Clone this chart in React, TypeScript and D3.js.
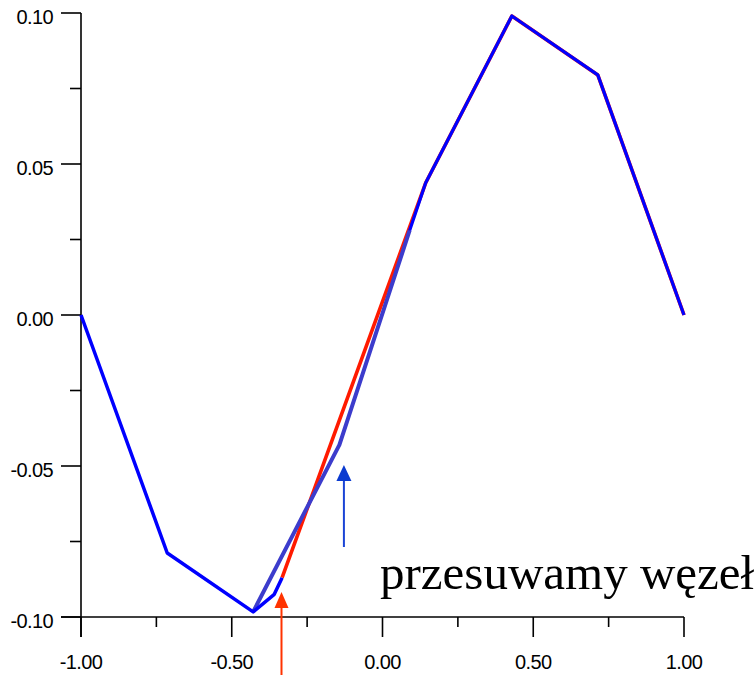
import React from "react";
import * as d3 from "d3";

const W = 754;
const H = 675;

// Data
const xMajorTicks = [-1, -0.5, 0, 0.5, 1];
const xTickLabels = ["-1.00", "-0.50", "0.00", "0.50", "1.00"];
const xMinorTicks = [-0.75, -0.25, 0.25, 0.75];
const yMajorTicks = [0.1, 0.05, 0, -0.05, -0.1];
const yTickLabels = ["0.10", "0.05", "0.00", "-0.05", "-0.10"];
const yMinorTicks = [0.075, 0.025, -0.025, -0.075];

// moved-node curve (red)
const redX = [-0.333, 0.143, 0.429, 0.714, 1];
const redY = [-0.087, 0.0437, 0.099, 0.0795, 0];
// original segment (violet-blue)
const origX = [-0.429, -0.143, 0.09];
const origY = [-0.0983, -0.043, 0.028];
// blue curve, left part
const blueLeftX = [-1, -0.714, -0.429, -0.359, -0.333];
const blueLeftY = [0, -0.0788, -0.0983, -0.0925, -0.087];
// blue curve, right part
const blueRightX = [0.09, 0.143, 0.429, 0.714, 1];
const blueRightY = [0.028, 0.0437, 0.099, 0.0795, 0];

const redArrowX = -0.335;
const blueArrowX = -0.128;
const label = "przesuwamy węzeł";

const zip = (xs: number[], ys: number[]) => xs.map((x, i) => [x, ys[i]] as [number, number]);

export default function App() {
  const x = d3.scaleLinear().domain([-1, 1]).range([81, 684]);
  const y = d3.scaleLinear().domain([-0.1, 0.1]).range([617, 13]);
  const line = d3
    .line<[number, number]>()
    .x((d) => x(d[0]))
    .y((d) => y(d[1]));

  const axisFont = "'Liberation Sans', Arial, sans-serif";

  const rx = x(redArrowX);
  const bx = x(blueArrowX);

  return (
    <svg
      width={W}
      height={H}
      style={{ position: "absolute", left: 0, top: 0, background: "#fff" }}
    >
      {/* axes */}
      <line x1={x(-1)} x2={x(-1)} y1={y(0.1)} y2={y(-0.1) + 20} stroke="#000" strokeWidth={1.6} />
      <line x1={x(-1) - 20} x2={x(1)} y1={y(-0.1)} y2={y(-0.1)} stroke="#000" strokeWidth={1.6} />
      {yMajorTicks.map((t, i) => (
        <g key={"ym" + i}>
          <line x1={x(-1) - 20} x2={x(-1)} y1={y(t)} y2={y(t)} stroke="#000" strokeWidth={1.6} />
          <text
            x={53}
            y={y(t) + 11}
            textAnchor="end"
            fontFamily={axisFont}
            fontSize={20}
            letterSpacing={-0.6}
            fill="#000"
          >
            {yTickLabels[i]}
          </text>
        </g>
      ))}
      {yMinorTicks.map((t, i) => (
        <line key={"yn" + i} x1={x(-1) - 11} x2={x(-1)} y1={y(t)} y2={y(t)} stroke="#000" strokeWidth={1.6} />
      ))}
      {xMajorTicks.map((t, i) => (
        <g key={"xm" + i}>
          <line x1={x(t)} x2={x(t)} y1={y(-0.1)} y2={y(-0.1) + 20} stroke="#000" strokeWidth={1.6} />
          <text
            x={x(t)}
            y={669}
            textAnchor="middle"
            fontFamily={axisFont}
            fontSize={20}
            letterSpacing={-0.6}
            fill="#000"
          >
            {xTickLabels[i]}
          </text>
        </g>
      ))}
      {xMinorTicks.map((t, i) => (
        <line key={"xn" + i} x1={x(t)} x2={x(t)} y1={y(-0.1)} y2={y(-0.1) + 10} stroke="#000" strokeWidth={1.6} />
      ))}

      {/* curves */}
      <path d={line(zip(redX, redY)) || ""} fill="none" stroke="#ff1a00" strokeWidth={3.6} strokeLinejoin="round" />
      <path d={line(zip(origX, origY)) || ""} fill="none" stroke="#3c3ccc" strokeWidth={4} strokeLinejoin="round" />
      <path d={line(zip(blueLeftX, blueLeftY)) || ""} fill="none" stroke="#0000ff" strokeWidth={3.5} strokeLinejoin="round" />
      <path d={line(zip(blueRightX, blueRightY)) || ""} fill="none" stroke="#0000ff" strokeWidth={3.2} strokeLinejoin="round" />

      {/* arrows */}
      <line x1={rx} x2={rx} y1={606} y2={H} stroke="#ff3300" strokeWidth={2} />
      <path d={`M${rx},${592} L${rx - 7},${608} L${rx + 7},${608} Z`} fill="#ff3300" />
      <line x1={bx} x2={bx} y1={479} y2={547} stroke="#1a44d6" strokeWidth={2} />
      <path d={`M${bx},${465} L${bx - 7.5},${481} L${bx + 7.5},${481} Z`} fill="#0a3ad0" />

      <text
        x={380}
        y={589}
        fontFamily="'Liberation Serif', 'Times New Roman', serif"
        fontSize={49}
        fill="#000"
      >
        {label}
      </text>
    </svg>
  );
}
